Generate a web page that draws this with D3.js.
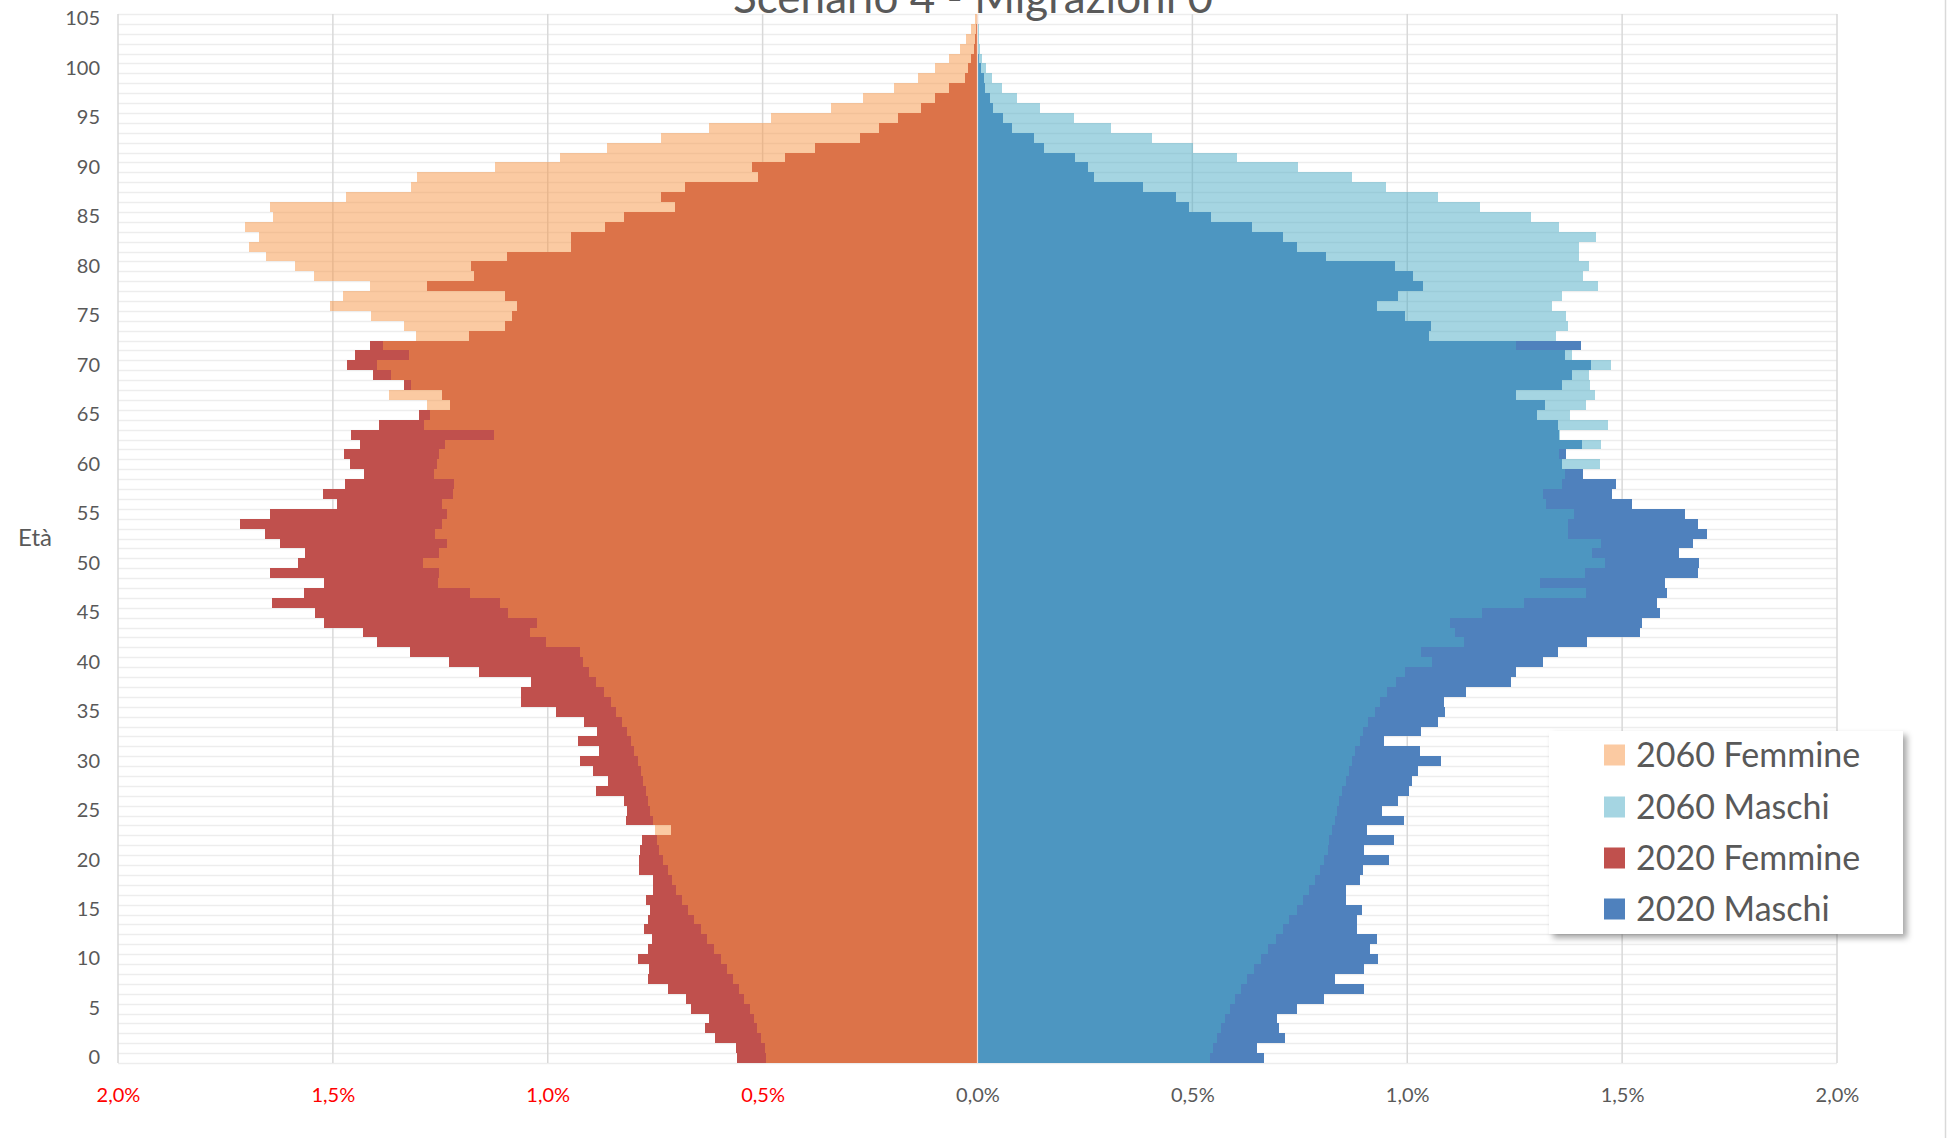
<!DOCTYPE html>
<html>
<head>
<meta charset="UTF-8">
<title>Scenario 4 - Migrazioni 0</title>
<style>
  body { margin: 0; background: #fff; }
  svg { display: block; font-family: Lato, "Open Sans", sans-serif; }
</style>
</head>
<body>
<svg id="chart" width="1957" height="1138"></svg>
<script src="https://cdn.jsdelivr.net/npm/d3@7"></script>
<script>
// ages 0..105 (categories)
const ages = d3.range(0, 106);

// percentage of total population, index = age
const femmine2020 = [
  0.560, 0.563, 0.611, 0.634, 0.624, 0.666, 0.678, 0.720, 0.767, 0.765,
  0.791, 0.767, 0.758, 0.777, 0.766, 0.763, 0.771, 0.756, 0.756, 0.788,
  0.787, 0.786, 0.780, 0.713, 0.819, 0.816, 0.823, 0.888, 0.859, 0.895,
  0.925, 0.881, 0.930, 0.886, 0.915, 0.980, 1.063, 1.063, 1.038, 1.160,
  1.229, 1.321, 1.398, 1.431, 1.521, 1.542, 1.641, 1.568, 1.520, 1.646,
  1.581, 1.565, 1.624, 1.659, 1.716, 1.647, 1.491, 1.523, 1.471, 1.428,
  1.460, 1.474, 1.437, 1.458, 1.393, 1.300, 1.227, 1.246, 1.335, 1.406,
  1.467, 1.449, 1.413, 1.183, 1.100, 1.083, 1.072, 1.099, 1.282, 1.172,
  1.178, 1.095, 0.945, 0.945, 0.866, 0.823, 0.705, 0.736, 0.680, 0.510,
  0.524, 0.447, 0.379, 0.274, 0.230, 0.186, 0.132, 0.100, 0.067, 0.028,
  0.021, 0.014, 0.008, 0.006, 0.003, 0.001
];
const femmine2060 = [
  0.493, 0.495, 0.503, 0.512, 0.521, 0.530, 0.543, 0.555, 0.568, 0.584,
  0.598, 0.613, 0.629, 0.644, 0.660, 0.674, 0.688, 0.701, 0.712, 0.721,
  0.732, 0.740, 0.746, 0.751, 0.755, 0.762, 0.767, 0.772, 0.779, 0.783,
  0.791, 0.799, 0.807, 0.816, 0.827, 0.841, 0.853, 0.869, 0.888, 0.905,
  0.918, 0.925, 1.005, 1.042, 1.025, 1.093, 1.112, 1.182, 1.256, 1.252,
  1.291, 1.252, 1.235, 1.263, 1.245, 1.235, 1.245, 1.220, 1.217, 1.264,
  1.258, 1.254, 1.238, 1.125, 1.289, 1.275, 1.280, 1.370, 1.319, 1.365,
  1.398, 1.324, 1.383, 1.306, 1.335, 1.411, 1.506, 1.477, 1.413, 1.543,
  1.588, 1.656, 1.695, 1.672, 1.704, 1.640, 1.646, 1.470, 1.318, 1.305,
  1.123, 0.971, 0.861, 0.737, 0.624, 0.480, 0.341, 0.267, 0.194, 0.138,
  0.098, 0.067, 0.040, 0.026, 0.014, 0.006
];
const maschi2020 = [
  0.667, 0.651, 0.715, 0.702, 0.697, 0.744, 0.807, 0.900, 0.832, 0.900,
  0.933, 0.914, 0.930, 0.882, 0.884, 0.895, 0.857, 0.857, 0.889, 0.898,
  0.957, 0.900, 0.970, 0.907, 0.993, 0.941, 0.978, 1.004, 1.011, 1.024,
  1.078, 1.029, 0.945, 1.031, 1.071, 1.089, 1.086, 1.137, 1.241, 1.252,
  1.315, 1.351, 1.418, 1.542, 1.547, 1.589, 1.580, 1.604, 1.600, 1.677,
  1.678, 1.632, 1.665, 1.697, 1.677, 1.647, 1.523, 1.476, 1.486, 1.410,
  1.361, 1.370, 1.406, 1.352, 1.351, 1.302, 1.321, 1.254, 1.359, 1.383,
  1.428, 1.366, 1.405, 1.050, 1.055, 0.994, 0.930, 0.978, 1.036, 1.013,
  0.971, 0.810, 0.743, 0.712, 0.638, 0.544, 0.493, 0.463, 0.386, 0.271,
  0.256, 0.227, 0.154, 0.132, 0.080, 0.060, 0.035, 0.030, 0.018, 0.015,
  0.007, 0.004, 0.002, 0.001, 0.000, 0.000
];
const maschi2060 = [
  0.540, 0.548, 0.557, 0.566, 0.576, 0.587, 0.599, 0.612, 0.627, 0.643,
  0.659, 0.677, 0.694, 0.710, 0.726, 0.743, 0.758, 0.772, 0.785, 0.796,
  0.806, 0.815, 0.819, 0.826, 0.832, 0.837, 0.841, 0.849, 0.857, 0.864,
  0.871, 0.879, 0.889, 0.897, 0.908, 0.924, 0.937, 0.954, 0.973, 0.994,
  1.057, 1.031, 1.133, 1.110, 1.100, 1.174, 1.271, 1.416, 1.309, 1.414,
  1.460, 1.429, 1.451, 1.373, 1.373, 1.387, 1.324, 1.317, 1.360, 1.366,
  1.448, 1.354, 1.451, 1.355, 1.466, 1.379, 1.417, 1.438, 1.425, 1.423,
  1.475, 1.384, 1.254, 1.345, 1.374, 1.370, 1.336, 1.361, 1.445, 1.410,
  1.424, 1.400, 1.400, 1.439, 1.354, 1.289, 1.169, 1.071, 0.951, 0.871,
  0.745, 0.604, 0.501, 0.407, 0.310, 0.225, 0.145, 0.093, 0.058, 0.033,
  0.019, 0.011, 0.005, 0.003, 0.003, 0.002
];

const xTicks = [-2, -1.5, -1, -0.5, 0, 0.5, 1, 1.5, 2];
const yTicks = [0, 5, 10, 15, 20, 25, 30, 35, 40, 45, 50, 55, 60, 65, 70, 75, 80, 85, 90, 95, 100, 105];
const legendLabels = ["2060 Femmine", "2060 Maschi", "2020 Femmine", "2020 Maschi"];
const title = "Scenario 4 - Migrazioni 0";

// 2020 drawn solid, 2060 drawn on top half transparent (like the Excel original)
const series = [
  { name: "2020 Femmine", values: femmine2020, sign: -1, color: "#C0504D", opacity: 1 },
  { name: "2020 Maschi",  values: maschi2020,  sign: 1,  color: "#4F81BD", opacity: 1 },
  { name: "2060 Femmine", values: femmine2060, sign: -1, color: "#F79646", opacity: 0.5 },
  { name: "2060 Maschi",  values: maschi2060,  sign: 1,  color: "#4BACC6", opacity: 0.5 }
];
const byName = new Map(series.map(s => [s.name, s]));

const svg = d3.select("#chart");
const plotTop = 14, plotBottom = 1063;
const x = d3.scaleLinear().domain([-2, 2]).range([118, 1837]);
const y = d3.scaleBand().domain(ages).range([plotBottom, plotTop]).padding(0);
const bw = y.bandwidth();
const yTop = a => Math.round(y(a));
const yBot = a => Math.round(y(a) + bw);

// horizontal gridlines between categories
const edges = ages.map(yTop).concat([yBot(0)]);
svg.append("g")
  .selectAll("line").data(edges).join("line")
  .attr("x1", x(-2)).attr("x2", x(2))
  .attr("y1", d => d + 0.5).attr("y2", d => d + 0.5)
  .attr("stroke", "#EDEDED").attr("stroke-width", 1.5);

// vertical gridlines
svg.append("g")
  .selectAll("line").data(xTicks).join("line")
  .attr("x1", d => x(d)).attr("x2", d => x(d))
  .attr("y1", plotTop).attr("y2", plotBottom)
  .attr("stroke", "#D9D9D9").attr("stroke-width", 1.5);

// bars
series.forEach(s => {
  svg.append("g")
    .attr("fill", s.color)
    .attr("fill-opacity", s.opacity)
    .attr("shape-rendering", "crispEdges")
    .selectAll("rect").data(ages).join("rect")
    .attr("x", a => Math.min(x(0), x(s.sign * s.values[a])))
    .attr("width", a => Math.abs(x(s.sign * s.values[a]) - x(0)))
    .attr("y", a => yTop(a))
    .attr("height", a => yBot(a) - yTop(a));
});

// centre line
svg.append("line")
  .attr("x1", x(0)).attr("x2", x(0))
  .attr("y1", plotTop).attr("y2", plotBottom)
  .attr("stroke", "#fff").attr("stroke-opacity", 0.75).attr("stroke-width", 1.2);

// axes
const itLocale = d3.formatLocale({ decimal: ",", thousands: ".", grouping: [3], currency: ["", " €"] });
const fmt = itLocale.format(".1f");

const xAxis = svg.append("g")
  .attr("transform", `translate(0,${plotBottom})`)
  .call(d3.axisBottom(x).tickValues(xTicks).tickSize(0).tickPadding(25)
    .tickFormat(d => fmt(Math.abs(d)) + "%"));
xAxis.select(".domain").remove();
xAxis.selectAll("text")
  .attr("font-family", "Lato, sans-serif")
  .attr("font-size", 20)
  .attr("fill", d => d < 0 ? "#FF0000" : "#595959");

const yAxis = svg.append("g")
  .attr("transform", `translate(${x(-2)},0)`)
  .call(d3.axisLeft(y).tickValues(yTicks).tickSize(0).tickPadding(18));
yAxis.select(".domain").remove();
yAxis.selectAll("text")
  .attr("font-family", "Lato, sans-serif")
  .attr("font-size", 20)
  .attr("fill", "#595959");

// axis title
svg.append("text")
  .attr("x", 35).attr("y", 540)
  .attr("text-anchor", "middle").attr("dominant-baseline", "middle")
  .attr("font-size", 24).attr("fill", "#595959")
  .text("Età");

// chart title (cut by the top edge, as in the original)
svg.append("text")
  .attr("x", 973).attr("y", 13)
  .attr("text-anchor", "middle")
  .attr("font-size", 44).attr("fill", "#595959")
  .text(title);

// right border of the chart area
svg.append("line")
  .attr("x1", 1945.5).attr("x2", 1945.5).attr("y1", 0).attr("y2", 1138)
  .attr("stroke", "#D9D9D9").attr("stroke-width", 1.5);

// legend
const defs = svg.append("defs");
const shadow = defs.append("filter").attr("id", "shadow")
  .attr("x", "-10%").attr("y", "-10%").attr("width", "130%").attr("height", "130%");
shadow.append("feDropShadow")
  .attr("dx", 4).attr("dy", 4).attr("stdDeviation", 3)
  .attr("flood-color", "#000").attr("flood-opacity", 0.35);

const legend = svg.append("g").attr("transform", "translate(1549,731)");
legend.append("rect")
  .attr("width", 354).attr("height", 203)
  .attr("fill", "#fff").attr("filter", "url(#shadow)");

const rowY = [24, 76, 127, 178];
const items = legend.selectAll("g.item").data(legendLabels).join("g")
  .attr("class", "item")
  .attr("transform", (d, i) => `translate(55,${rowY[i]})`);
items.append("rect")
  .attr("y", -10.5).attr("width", 21).attr("height", 21)
  .attr("fill", d => byName.get(d).color)
  .attr("fill-opacity", d => byName.get(d).opacity);
items.append("text")
  .attr("x", 32).attr("dy", "0.36em")
  .attr("font-size", 34).attr("fill", "#595959")
  .text(d => d);
</script>
</body>
</html>
